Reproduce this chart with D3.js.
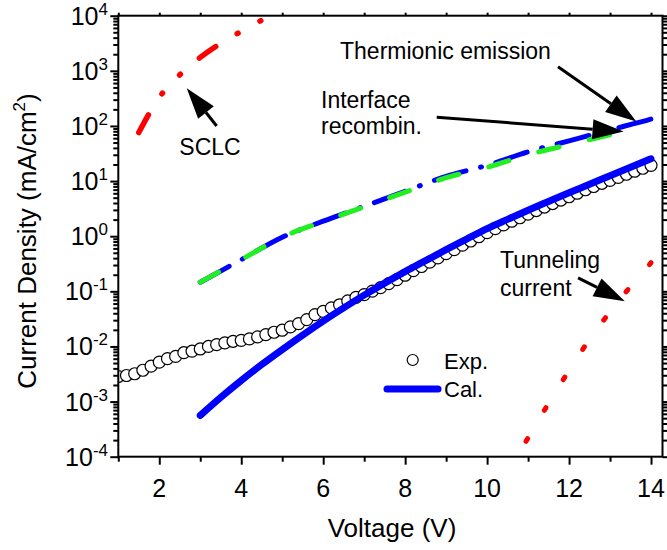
<!DOCTYPE html>
<html>
<head>
<meta charset="utf-8">
<script src="https://cdn.jsdelivr.net/npm/d3@7"></script>
<style>
  body { margin: 0; background: #fff; }
  svg { display: block; font-family: "Liberation Sans", Arial, sans-serif; }
</style>
</head>
<body>
<svg width="667" height="550"></svg>
<script>
// measured data (Exp.)
const expVoltage = [1.0,1.2,1.4,1.6,1.8,2.0,2.2,2.4,2.6,2.8,3.0,3.2,3.4,3.6,3.8,4.0,4.2,4.4,4.6,4.8,
  5.0,5.2,5.4,5.6,5.8,6.0,6.2,6.4,6.6,6.8,7.0,7.2,7.4,7.6,7.8,8.0,8.2,8.4,8.6,8.8,
  9.0,9.2,9.4,9.6,9.8,10.0,10.2,10.4,10.6,10.8,11.0,11.2,11.4,11.6,11.8,12.0,12.2,12.4,12.6,12.8,
  13.0,13.2,13.4,13.6,13.8,14.0];
const expCurrent = [2.85e-3,2.97e-3,3.2e-3,3.7e-3,4.4e-3,5.2e-3,6.0e-3,6.6e-3,7.7e-3,8.2e-3,
  9.0e-3,1.0e-2,1.08e-2,1.16e-2,1.24e-2,1.29e-2,1.37e-2,1.49e-2,1.64e-2,1.81e-2,
  1.97e-2,2.26e-2,2.6e-2,3.07e-2,3.78e-2,4.34e-2,5.0e-2,5.7e-2,6.7e-2,0.0776,
  0.0872,0.101,0.117,0.138,0.163,0.196,0.237,0.282,0.338,0.403,
  0.482,0.569,0.687,0.818,0.979,1.16,1.37,1.60,1.87,2.16,
  2.52,2.92,3.38,3.91,4.53,5.20,6.02,6.96,7.98,9.12,
  10.3,11.7,13.3,15.1,17.1,19.3];

// calculated total (Cal.)
const calVoltage = [3,3.5,4,4.5,5,5.5,6,6.5,7,7.5,8,8.5,9,9.5,10,10.5,11,11.5,12,12.5,13,13.5,14];
const calCurrent = [5.6e-4,1.19e-3,2.41e-3,4.70e-3,8.79e-3,1.61e-2,2.88e-2,5.0e-2,8.53e-2,0.141,0.228,0.36,
  0.569,0.885,1.37,2.02,2.96,4.27,6.14,8.75,12.5,17.8,25.4];

// thermionic emission
const teVoltage = [3,4,5,6,7,8,9,10,11,12,13,14,14.1];
const teCurrent = [0.146,0.375,0.958,1.87,3.49,6.53,12.2,19.3,33.9,53.7,85,133,140];

// interface recombination
const irVoltage = [3,4,5,6,7,8,9,10,11,12,13,13.4];
const irCurrent = [0.146,0.375,0.958,1.85,3.4,6.3,11.5,17.8,30,46,69,82];

// SCLC
const sclcVoltage = [1.5,2.0,2.5,3.0,3.5,4.0,4.5,5.0];
const sclcCurrent = [76,330,846,1750,3150,5200,8300,12500];

// tunneling current
const tunVoltage = [10.95,11.4,11.9,12.4,12.9,13.4,14.0];
const tunCurrent = [1.9e-4,7.0e-4,2.8e-3,1.05e-2,3.4e-2,0.1,0.33];

const xMajor = [2,4,6,8,10,12,14];
const xMinor = [1,3,5,7,9,11,13];
const yDecades = [-4,-3,-2,-1,0,1,2,3,4];

// plot box
const boxL = 118.3, boxR = 662.5, boxT = 15.7, boxB = 456.7;

const svg = d3.select("svg");

const x = d3.scaleLinear().domain([1, 14.28]).range([boxL, boxR]);
const y = d3.scaleLog().domain([1e-4, 1e4]).range([boxB, boxT]);

const yMajor = yDecades.map(d => Math.pow(10, d));
const yMinor = [];
yDecades.slice(0, -1).forEach(d => {
  for (let m = 2; m <= 9; m++) yMinor.push(m * Math.pow(10, d));
});

// axes (ticks only, box drawn separately)
function styleAxis(sel) {
  sel.select(".domain").remove();
  sel.selectAll(".tick line").attr("stroke", "#000").attr("stroke-width", 2);
  sel.selectAll(".tick text").remove();
}
svg.append("g").attr("transform", `translate(0,${boxB})`)
  .call(d3.axisBottom(x).tickValues(xMajor).tickSize(8)).call(styleAxis);
svg.append("g").attr("transform", `translate(0,${boxB})`)
  .call(d3.axisBottom(x).tickValues(xMinor).tickSize(5)).call(styleAxis);
svg.append("g").attr("transform", `translate(0,${boxT})`)
  .call(d3.axisTop(x).tickValues(xMajor.concat(xMinor)).tickSize(3)).call(styleAxis);
svg.append("g").attr("transform", `translate(${boxL},0)`)
  .call(d3.axisLeft(y).tickValues(yMajor).tickSize(8)).call(styleAxis);
svg.append("g").attr("transform", `translate(${boxL},0)`)
  .call(d3.axisLeft(y).tickValues(yMinor).tickSize(5)).call(styleAxis);
svg.append("g").attr("transform", `translate(${boxR},0)`)
  .call(d3.axisRight(y).tickValues(yMajor).tickSize(8)).call(styleAxis);
svg.append("g").attr("transform", `translate(${boxR},0)`)
  .call(d3.axisRight(y).tickValues(yMinor).tickSize(5)).call(styleAxis);

// tick labels
svg.append("g").selectAll("text").data(xMajor).enter().append("text")
  .attr("x", d => x(d)).attr("y", boxB + 40)
  .attr("text-anchor", "middle").attr("font-size", 25)
  .text(d => d);

const yl = svg.append("g").selectAll("text").data(yDecades).enter().append("text")
  .attr("x", 108).attr("y", d => y(Math.pow(10, d)) + 9)
  .attr("text-anchor", "end").attr("font-size", 25);
yl.append("tspan").text("10");
yl.append("tspan").attr("dy", -10).attr("font-size", 17).text(d => d);

// axis titles
svg.append("text").attr("x", 392).attr("y", 537)
  .attr("text-anchor", "middle").attr("font-size", 26).text("Voltage (V)");
const yt = svg.append("text").attr("transform", "translate(36,241) rotate(-90)")
  .attr("text-anchor", "middle").attr("font-size", 26);
yt.append("tspan").text("Current Density (mA/cm");
yt.append("tspan").attr("dy", -11).attr("font-size", 17).text("2");
yt.append("tspan").attr("dy", 11).text(")");

// clip
svg.append("clipPath").attr("id", "plotclip").append("rect")
  .attr("x", boxL).attr("y", boxT).attr("width", boxR - boxL).attr("height", boxB - boxT);
const plot = svg.append("g").attr("clip-path", "url(#plotclip)");

const line = d3.line().x(d => x(d[0])).y(d => y(d[1])).curve(d3.curveMonotoneX);
const pairs = (vs, js) => vs.map((v, i) => [v, js[i]]);

// thermionic emission (blue dash-dot)
plot.append("path").datum(pairs(teVoltage, teCurrent))
  .attr("d", line).attr("fill", "none").attr("stroke", "#0000ff")
  .attr("stroke-width", 5).attr("stroke-linecap", "round")
  .attr("stroke-dasharray", "33,15,1,15");

// interface recombination (green dash)
plot.append("path").datum(pairs(irVoltage, irCurrent))
  .attr("d", line).attr("fill", "none").attr("stroke", "#22ee22")
  .attr("stroke-width", 5).attr("stroke-linecap", "round")
  .attr("stroke-dasharray", "21,31");

// SCLC (red dash-dot-dot)
plot.append("path").datum(pairs(sclcVoltage, sclcCurrent))
  .attr("d", line).attr("fill", "none").attr("stroke", "#ff0000")
  .attr("stroke-width", 5.5).attr("stroke-linecap", "round")
  .attr("stroke-dasharray", "20,25,1,25,1,25");

// tunneling (red dots)
plot.append("path").datum(pairs(tunVoltage, tunCurrent))
  .attr("d", line).attr("fill", "none").attr("stroke", "#ff0000")
  .attr("stroke-width", 5).attr("stroke-linecap", "round")
  .attr("stroke-dasharray", "3,33");

// Exp. circles
plot.append("g").selectAll("circle").data(pairs(expVoltage, expCurrent)).enter().append("circle")
  .attr("cx", d => x(d[0])).attr("cy", d => y(d[1])).attr("r", 6)
  .attr("fill", "#fff").attr("stroke", "#000").attr("stroke-width", 1.2);

// Cal. line
plot.append("path").datum(pairs(calVoltage, calCurrent))
  .attr("d", line).attr("fill", "none").attr("stroke", "#0000ff")
  .attr("stroke-width", 7).attr("stroke-linecap", "round").attr("stroke-linejoin", "round");

// box
svg.append("rect").attr("x", boxL).attr("y", boxT)
  .attr("width", boxR - boxL).attr("height", boxB - boxT)
  .attr("fill", "none").attr("stroke", "#000").attr("stroke-width", 2);

// legend
svg.append("circle").attr("cx", 412.7).attr("cy", 360).attr("r", 5.5)
  .attr("fill", "#fff").attr("stroke", "#000").attr("stroke-width", 1.2);
svg.append("text").attr("x", 444).attr("y", 369).attr("font-size", 22).text("Exp.");
svg.append("line").attr("x1", 387).attr("x2", 438).attr("y1", 389).attr("y2", 389)
  .attr("stroke", "#0000ff").attr("stroke-width", 7).attr("stroke-linecap", "round");
svg.append("text").attr("x", 444).attr("y", 397).attr("font-size", 22).text("Cal.");

// annotations: [tailV, tailJ, headV, headJ]
const arrows = [
  [3.40, 100, 2.67, 484],     // SCLC
  [11.73, 1190, 13.64, 120],  // thermionic
  [8.77, 144, 13.33, 79],     // interface
  [12.22, 0.175, 13.36, 0.066] // tunneling
];
const ann = svg.append("g");
arrows.forEach(a => {
  const x1 = x(a[0]), y1 = y(a[1]), x2 = x(a[2]), y2 = y(a[3]);
  const ang = Math.atan2(y2 - y1, x2 - x1);
  const len = 31, hw = 10;
  const bx = x2 - len * Math.cos(ang), by = y2 - len * Math.sin(ang);
  ann.append("line").attr("x1", x1).attr("y1", y1).attr("x2", bx).attr("y2", by)
    .attr("stroke", "#000").attr("stroke-width", 3);
  const px = -Math.sin(ang) * hw, py = Math.cos(ang) * hw;
  ann.append("polygon")
    .attr("points", [[x2, y2], [bx + px, by + py], [bx - px, by - py]].map(p => p.join(",")).join(" "))
    .attr("fill", "#000");
});

ann.append("text").attr("x", 210).attr("y", 155).attr("text-anchor", "middle")
  .attr("font-size", 23).text("SCLC");
ann.append("text").attr("x", 340).attr("y", 59).attr("font-size", 23).text("Thermionic emission");
ann.append("text").attr("x", 321).attr("y", 108).attr("font-size", 23).text("Interface");
ann.append("text").attr("x", 321).attr("y", 134).attr("font-size", 23).text("recombin.");
ann.append("text").attr("x", 500).attr("y", 268).attr("font-size", 23).text("Tunneling");
ann.append("text").attr("x", 500).attr("y", 296).attr("font-size", 23).text("current");
</script>
</body>
</html>
